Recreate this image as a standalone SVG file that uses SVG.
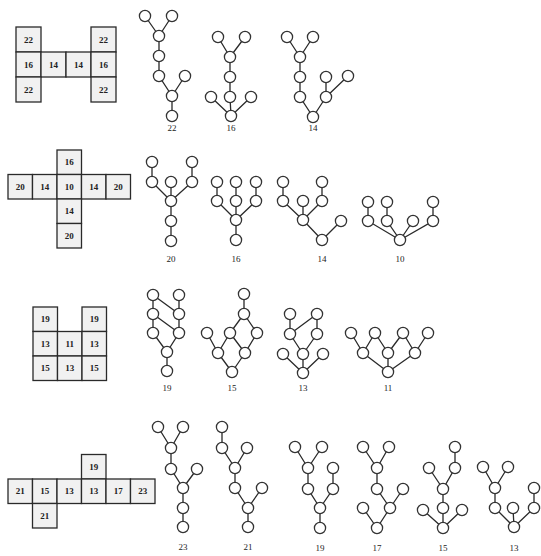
<svg xmlns="http://www.w3.org/2000/svg" width="541" height="556" viewBox="0 0 541 556">
<style>
.cell{fill:#f1f1f1;stroke:#2a2a2a;stroke-width:1.3}
.ct{font-family:"Liberation Serif",serif;font-size:9px;font-weight:bold;fill:#222;text-anchor:middle}
.e{stroke:#2a2a2a;stroke-width:1.3;fill:none}
.n{fill:#fff;stroke:#333;stroke-width:1.3}
.lb{font-family:"Liberation Serif",serif;font-size:9px;fill:#222;text-anchor:middle}
</style>
<rect width="541" height="556" fill="#fff"/>

<!-- Grid 1 -->
<g id="grid1">
<rect class="cell" x="16" y="27" width="25" height="25"/><text class="ct" x="28.5" y="42.5">22</text>
<rect class="cell" x="91" y="27" width="25" height="25"/><text class="ct" x="103.5" y="42.5">22</text>
<rect class="cell" x="16" y="52" width="25" height="25"/><text class="ct" x="28.5" y="67.5">16</text>
<rect class="cell" x="41" y="52" width="25" height="25"/><text class="ct" x="53.5" y="67.5">14</text>
<rect class="cell" x="66" y="52" width="25" height="25"/><text class="ct" x="78.5" y="67.5">14</text>
<rect class="cell" x="91" y="52" width="25" height="25"/><text class="ct" x="103.5" y="67.5">16</text>
<rect class="cell" x="16" y="77" width="25" height="25"/><text class="ct" x="28.5" y="92.5">22</text>
<rect class="cell" x="91" y="77" width="25" height="25"/><text class="ct" x="103.5" y="92.5">22</text>
</g>

<!-- Grid 2 -->
<g id="grid2">
<rect class="cell" x="57" y="150" width="24.5" height="24.5"/><text class="ct" x="69.25" y="165.3">16</text>
<rect class="cell" x="8" y="174.5" width="24.5" height="24.5"/><text class="ct" x="20.25" y="189.8">20</text>
<rect class="cell" x="32.5" y="174.5" width="24.5" height="24.5"/><text class="ct" x="44.75" y="189.8">14</text>
<rect class="cell" x="57" y="174.5" width="24.5" height="24.5"/><text class="ct" x="69.25" y="189.8">10</text>
<rect class="cell" x="81.5" y="174.5" width="24.5" height="24.5"/><text class="ct" x="93.75" y="189.8">14</text>
<rect class="cell" x="106" y="174.5" width="24.5" height="24.5"/><text class="ct" x="118.25" y="189.8">20</text>
<rect class="cell" x="57" y="199" width="24.5" height="24.5"/><text class="ct" x="69.25" y="214.3">14</text>
<rect class="cell" x="57" y="223.5" width="24.5" height="24.5"/><text class="ct" x="69.25" y="238.8">20</text>
</g>

<!-- Grid 3 -->
<g id="grid3">
<rect class="cell" x="33" y="307" width="24.5" height="24.5"/><text class="ct" x="45.25" y="322.3">19</text>
<rect class="cell" x="82" y="307" width="24.5" height="24.5"/><text class="ct" x="94.25" y="322.3">19</text>
<rect class="cell" x="33" y="331.5" width="24.5" height="24.5"/><text class="ct" x="45.25" y="346.8">13</text>
<rect class="cell" x="57.5" y="331.5" width="24.5" height="24.5"/><text class="ct" x="69.75" y="346.8">11</text>
<rect class="cell" x="82" y="331.5" width="24.5" height="24.5"/><text class="ct" x="94.25" y="346.8">13</text>
<rect class="cell" x="33" y="356" width="24.5" height="24.5"/><text class="ct" x="45.25" y="371.3">15</text>
<rect class="cell" x="57.5" y="356" width="24.5" height="24.5"/><text class="ct" x="69.75" y="371.3">13</text>
<rect class="cell" x="82" y="356" width="24.5" height="24.5"/><text class="ct" x="94.25" y="371.3">15</text>
</g>

<!-- Grid 4 -->
<g id="grid4">
<rect class="cell" x="81.5" y="454.5" width="24.5" height="24.5"/><text class="ct" x="93.75" y="469.8">19</text>
<rect class="cell" x="8" y="479" width="24.5" height="24.5"/><text class="ct" x="20.25" y="494.3">21</text>
<rect class="cell" x="32.5" y="479" width="24.5" height="24.5"/><text class="ct" x="44.75" y="494.3">15</text>
<rect class="cell" x="57" y="479" width="24.5" height="24.5"/><text class="ct" x="69.25" y="494.3">13</text>
<rect class="cell" x="81.5" y="479" width="24.5" height="24.5"/><text class="ct" x="93.75" y="494.3">13</text>
<rect class="cell" x="106" y="479" width="24.5" height="24.5"/><text class="ct" x="118.25" y="494.3">17</text>
<rect class="cell" x="130.5" y="479" width="24.5" height="24.5"/><text class="ct" x="142.75" y="494.3">23</text>
<rect class="cell" x="32.5" y="503.5" width="24.5" height="24.5"/><text class="ct" x="44.75" y="518.8">21</text>
</g>

<!-- Connectors -->
<g id="connectors" class="e">
<path d="M145,16L159,36M172,16L159,36M159,36L159,56L159,76L172,96M185,76L172,96M172,96L172,116"/>
<path d="M218,37L230,57M245,37L230,57M230,57L230,77L230,97L231,116M211,97L231,116M251,97L231,116"/>
<path d="M287,37L300,57M313,37L300,57M300,57L300,77L300,97L313,117M326,97L313,117M326,77L326,97M348,76L326,97"/>

<path d="M152,162L152,182L171,201M192,162L192,182L171,201M171,182L171,201L171,221L171,241"/>
<path d="M217,182L217,201L236,220M236,182L236,201L236,220M256,182L256,201L236,220M236,220L236,240"/>
<path d="M283,182L283,201L303,220M322,182L322,201L303,220M303,201L303,220L322,240M341,221L322,240"/>
<path d="M368,202L368,221L400,240M387,202L387,221L400,240M433,202L433,221L400,240M413,221L400,240"/>

<path d="M153,295L153,314L153,333L167,352L167,371M153,295L179,314M179,295L179,314L179,333L167,352M153,314L179,333"/>
<path d="M244,294L244,314M244,314L230,333M244,314L257,333M207,333L218,353M230,333L218,353M230,333L245,353M257,333L245,353M218,353L232,372M245,353L232,372"/>
<path d="M290,314L290,334M290,334L317,314M317,314L317,334M290,334L303,354M317,334L303,354M283,354L303,373M303,354L303,373M323,354L303,373"/>
<path d="M351,333L363,353M375,333L363,353M375,333L388,353M403,333L388,353M403,333L415,353M428,333L415,353M363,353L388,372M388,353L388,372M415,353L388,372"/>

<path d="M158,427L171,448M183,427L171,448M171,448L171,469L183,488M197,469L183,488M183,488L183,508L183,527"/>
<path d="M222,427L222,448L235,468M247,448L235,468M235,468L235,488L248,508M262,488L248,508M248,508L248,527"/>
<path d="M295,447L308,468M322,447L308,468M308,468L308,489L320,508M333,468L333,489L320,508M320,508L320,528"/>
<path d="M363,447L377,468M389,447L377,468M377,468L377,489L390,508M403,489L390,508M390,508L377,528M363,508L377,528"/>
<path d="M455,447L455,468L443,489M429,468L443,489M443,489L443,508L443,528M423,510L443,528M462,510L443,528"/>
<path d="M483,467L495,488M508,467L495,488M495,488L495,508L514,527M513,508L514,527M534,488L534,508L514,527"/>
</g>

<!-- Trees row 1 -->
<g id="tree1-22" class="n">
<circle cx="145" cy="16" r="5.6"/><circle cx="172" cy="16" r="5.6"/><circle cx="159" cy="36" r="5.6"/><circle cx="159" cy="56" r="5.6"/><circle cx="159" cy="76" r="5.6"/><circle cx="185" cy="76" r="5.6"/><circle cx="172" cy="96" r="5.6"/><circle cx="172" cy="116" r="5.6"/>
</g>
<text class="lb" x="172" y="131">22</text>
<g id="tree1-16" class="n">
<circle cx="218" cy="37" r="5.6"/><circle cx="245" cy="37" r="5.6"/><circle cx="230" cy="57" r="5.6"/><circle cx="230" cy="77" r="5.6"/><circle cx="230" cy="97" r="5.6"/><circle cx="211" cy="97" r="5.6"/><circle cx="251" cy="97" r="5.6"/><circle cx="231" cy="116" r="5.6"/>
</g>
<text class="lb" x="231" y="131">16</text>
<g id="tree1-14" class="n">
<circle cx="287" cy="37" r="5.6"/><circle cx="313" cy="37" r="5.6"/><circle cx="300" cy="57" r="5.6"/><circle cx="300" cy="77" r="5.6"/><circle cx="300" cy="97" r="5.6"/><circle cx="313" cy="117" r="5.6"/><circle cx="326" cy="97" r="5.6"/><circle cx="326" cy="77" r="5.6"/><circle cx="348" cy="76" r="5.6"/>
</g>
<text class="lb" x="313" y="131">14</text>

<!-- Trees row 2 -->
<g id="tree2-20" class="n">
<circle cx="152" cy="162" r="5.6"/><circle cx="192" cy="162" r="5.6"/><circle cx="152" cy="182" r="5.6"/><circle cx="171" cy="182" r="5.6"/><circle cx="192" cy="182" r="5.6"/><circle cx="171" cy="201" r="5.6"/><circle cx="171" cy="221" r="5.6"/><circle cx="171" cy="241" r="5.6"/>
</g>
<text class="lb" x="171" y="262">20</text>
<g id="tree2-16" class="n">
<circle cx="217" cy="182" r="5.6"/><circle cx="236" cy="182" r="5.6"/><circle cx="256" cy="182" r="5.6"/><circle cx="217" cy="201" r="5.6"/><circle cx="236" cy="201" r="5.6"/><circle cx="256" cy="201" r="5.6"/><circle cx="236" cy="220" r="5.6"/><circle cx="236" cy="240" r="5.6"/>
</g>
<text class="lb" x="236" y="262">16</text>
<g id="tree2-14" class="n">
<circle cx="283" cy="182" r="5.6"/><circle cx="322" cy="182" r="5.6"/><circle cx="283" cy="201" r="5.6"/><circle cx="303" cy="201" r="5.6"/><circle cx="322" cy="201" r="5.6"/><circle cx="303" cy="220" r="5.6"/><circle cx="322" cy="240" r="5.6"/><circle cx="341" cy="221" r="5.6"/>
</g>
<text class="lb" x="322" y="262">14</text>
<g id="tree2-10" class="n">
<circle cx="368" cy="202" r="5.6"/><circle cx="387" cy="202" r="5.6"/><circle cx="433" cy="202" r="5.6"/><circle cx="368" cy="221" r="5.6"/><circle cx="387" cy="221" r="5.6"/><circle cx="413" cy="221" r="5.6"/><circle cx="433" cy="221" r="5.6"/><circle cx="400" cy="240" r="5.6"/>
</g>
<text class="lb" x="400" y="262">10</text>

<!-- Trees row 3 -->
<g id="tree3-19" class="n">
<circle cx="153" cy="295" r="5.6"/><circle cx="179" cy="295" r="5.6"/><circle cx="153" cy="314" r="5.6"/><circle cx="179" cy="314" r="5.6"/><circle cx="153" cy="333" r="5.6"/><circle cx="179" cy="333" r="5.6"/><circle cx="167" cy="352" r="5.6"/><circle cx="167" cy="371" r="5.6"/>
</g>
<text class="lb" x="167" y="391">19</text>
<g id="tree3-15" class="n">
<circle cx="244" cy="294" r="5.6"/><circle cx="244" cy="314" r="5.6"/><circle cx="207" cy="333" r="5.6"/><circle cx="230" cy="333" r="5.6"/><circle cx="257" cy="333" r="5.6"/><circle cx="218" cy="353" r="5.6"/><circle cx="245" cy="353" r="5.6"/><circle cx="232" cy="372" r="5.6"/>
</g>
<text class="lb" x="232" y="391">15</text>
<g id="tree3-13" class="n">
<circle cx="290" cy="314" r="5.6"/><circle cx="317" cy="314" r="5.6"/><circle cx="290" cy="334" r="5.6"/><circle cx="317" cy="334" r="5.6"/><circle cx="283" cy="354" r="5.6"/><circle cx="303" cy="354" r="5.6"/><circle cx="323" cy="354" r="5.6"/><circle cx="303" cy="373" r="5.6"/>
</g>
<text class="lb" x="303" y="391">13</text>
<g id="tree3-11" class="n">
<circle cx="351" cy="333" r="5.6"/><circle cx="375" cy="333" r="5.6"/><circle cx="403" cy="333" r="5.6"/><circle cx="428" cy="333" r="5.6"/><circle cx="363" cy="353" r="5.6"/><circle cx="388" cy="353" r="5.6"/><circle cx="415" cy="353" r="5.6"/><circle cx="388" cy="372" r="5.6"/>
</g>
<text class="lb" x="388" y="391">11</text>

<!-- Trees row 4 -->
<g id="tree4-23" class="n">
<circle cx="158" cy="427" r="5.6"/><circle cx="183" cy="427" r="5.6"/><circle cx="171" cy="448" r="5.6"/><circle cx="171" cy="469" r="5.6"/><circle cx="197" cy="469" r="5.6"/><circle cx="183" cy="488" r="5.6"/><circle cx="183" cy="508" r="5.6"/><circle cx="183" cy="527" r="5.6"/>
</g>
<text class="lb" x="183" y="550">23</text>
<g id="tree4-21" class="n">
<circle cx="222" cy="427" r="5.6"/><circle cx="222" cy="448" r="5.6"/><circle cx="247" cy="448" r="5.6"/><circle cx="235" cy="468" r="5.6"/><circle cx="235" cy="488" r="5.6"/><circle cx="262" cy="488" r="5.6"/><circle cx="248" cy="508" r="5.6"/><circle cx="248" cy="527" r="5.6"/>
</g>
<text class="lb" x="248" y="550">21</text>
<g id="tree4-19" class="n">
<circle cx="295" cy="447" r="5.6"/><circle cx="322" cy="447" r="5.6"/><circle cx="308" cy="468" r="5.6"/><circle cx="308" cy="489" r="5.6"/><circle cx="333" cy="468" r="5.6"/><circle cx="333" cy="489" r="5.6"/><circle cx="320" cy="508" r="5.6"/><circle cx="320" cy="528" r="5.6"/>
</g>
<text class="lb" x="320" y="551">19</text>
<g id="tree4-17" class="n">
<circle cx="363" cy="447" r="5.6"/><circle cx="389" cy="447" r="5.6"/><circle cx="377" cy="468" r="5.6"/><circle cx="377" cy="489" r="5.6"/><circle cx="403" cy="489" r="5.6"/><circle cx="390" cy="508" r="5.6"/><circle cx="363" cy="508" r="5.6"/><circle cx="377" cy="528" r="5.6"/>
</g>
<text class="lb" x="377" y="551">17</text>
<g id="tree4-15" class="n">
<circle cx="455" cy="447" r="5.6"/><circle cx="455" cy="468" r="5.6"/><circle cx="429" cy="468" r="5.6"/><circle cx="443" cy="489" r="5.6"/><circle cx="443" cy="508" r="5.6"/><circle cx="423" cy="510" r="5.6"/><circle cx="462" cy="510" r="5.6"/><circle cx="443" cy="528" r="5.6"/>
</g>
<text class="lb" x="443" y="551">15</text>
<g id="tree4-13" class="n">
<circle cx="483" cy="467" r="5.6"/><circle cx="508" cy="467" r="5.6"/><circle cx="495" cy="488" r="5.6"/><circle cx="495" cy="508" r="5.6"/><circle cx="513" cy="508" r="5.6"/><circle cx="534" cy="508" r="5.6"/><circle cx="534" cy="488" r="5.6"/><circle cx="514" cy="527" r="5.6"/>
</g>
<text class="lb" x="514" y="551">13</text>
</svg>
